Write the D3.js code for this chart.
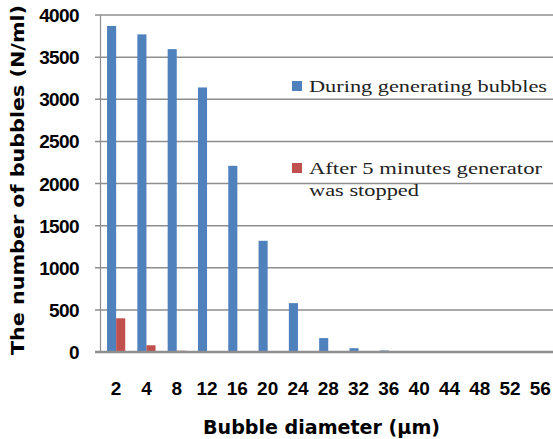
<!DOCTYPE html>
<html lang="en">
<head>
<meta charset="utf-8">
<title>Bubble diameter distribution</title>
<script src="https://d3js.org/d3.v7.min.js"></script>
<style>
  body { margin: 0; background: #fff; }
</style>
</head>
<body>
<script>

// data
var diameters = ["2", "4", "8", "12", "16", "20", "24", "28", "32", "36", "40", "44", "48", "52", "56"];
var during = [3870, 3770, 3595, 3140, 2210, 1320, 580, 165, 45, 18, 0, 0, 0, 0, 0];
var after5 = [400, 80, 15, 0, 0, 0, 0, 0, 0, 0, 0, 0, 0, 0, 0];
var yTicks = [0, 500, 1000, 1500, 2000, 2500, 3000, 3500, 4000];
var seriesNames = ["During generating bubbles", "After 5 minutes generator|was stopped"];
var colors = ["#4f81bd", "#c0504d"];

var w = 553, h = 439;
var plot = {left: 101, right: 555.5, top: 15, bottom: 352};

var svg = d3.select("body").append("svg")
    .attr("width", w)
    .attr("height", h);

var x = d3.scaleBand()
    .domain(diameters)
    .range([plot.left, plot.right])
    .paddingInner(0.4)
    .paddingOuter(0.2);

var y = d3.scaleLinear()
    .domain([0, 4000])
    .range([plot.bottom, plot.top]);

// gridlines
svg.append("g")
  .selectAll("line")
  .data(yTicks.slice(1))
  .enter().append("line")
    .attr("x1", plot.left - 6)
    .attr("x2", w)
    .attr("y1", function(d) { return y(d); })
    .attr("y2", function(d) { return y(d); })
    .style("stroke", "#8e8e8e")
    .style("stroke-width", 1.5);

// y axis line
svg.append("line")
    .attr("x1", plot.left - 0.5).attr("x2", plot.left - 0.5)
    .attr("y1", plot.top).attr("y2", plot.bottom)
    .style("stroke", "#8e8e8e")
    .style("stroke-width", 1.2);

// y tick labels
svg.append("g")
  .selectAll("text")
  .data(yTicks)
  .enter().append("text")
    .attr("x", 79)
    .attr("y", function(d) { return y(d) + 7; })
    .attr("text-anchor", "end")
    .style("font-family", "'Liberation Sans Narrow', 'Liberation Sans', Arial, sans-serif")
    .style("font-weight", "bold")
    .style("font-size", "19px")
    .style("letter-spacing", "-0.6px")
    .text(function(d) { return d; });

var barW = x.bandwidth() / 2;

svg.append("g")
  .selectAll("rect")
  .data(during)
  .enter().append("rect")
    .attr("x", function(d, i) { return x(diameters[i]); })
    .attr("y", function(d) { return y(d); })
    .attr("width", barW)
    .attr("height", function(d) { return plot.bottom - y(d); })
    .style("fill", colors[0]);

svg.append("g")
  .selectAll("rect")
  .data(after5)
  .enter().append("rect")
    .attr("x", function(d, i) { return x(diameters[i]) + barW; })
    .attr("y", function(d) { return y(d); })
    .attr("width", barW)
    .attr("height", function(d) { return plot.bottom - y(d); })
    .style("fill", colors[1]);

// x axis line
svg.append("line")
    .attr("x1", plot.left - 6).attr("x2", w)
    .attr("y1", plot.bottom).attr("y2", plot.bottom)
    .style("stroke", "#8e8e8e")
    .style("stroke-width", 2.5);

// x tick labels
svg.append("g")
  .selectAll("text")
  .data(diameters)
  .enter().append("text")
    .attr("x", function(d) { return x(d) + x.bandwidth() / 2; })
    .attr("y", 395)
    .attr("text-anchor", "middle")
    .style("font-family", "'Liberation Sans Narrow', 'Liberation Sans', Arial, sans-serif")
    .style("font-weight", "bold")
    .style("font-size", "19px")
    .text(function(d) { return d; });

// axis titles
svg.append("text")
    .attr("x", 203)
    .attr("y", 434)
    .attr("textLength", 237)
    .attr("lengthAdjust", "spacingAndGlyphs")
    .style("font-family", "'DejaVu Sans Condensed', 'DejaVu Sans', sans-serif")
    .style("font-weight", "bold")
    .style("font-size", "19px")
    .text("Bubble diameter (\u03bcm)");

svg.append("text")
    .attr("transform", "translate(24,355) rotate(-90)")
    .attr("textLength", 350)
    .attr("lengthAdjust", "spacingAndGlyphs")
    .style("font-family", "'DejaVu Sans', sans-serif")
    .style("font-weight", "bold")
    .style("font-size", "18px")
    .text("The number of bubbles (N/ml)");

// legend
var legendY = [92, 174];
var legendLen = [[238], [233, 110]];
seriesNames.forEach(function(name, i) {
  svg.append("rect")
      .attr("x", 292)
      .attr("y", legendY[i] - 11)
      .attr("width", 10)
      .attr("height", 10)
      .style("fill", colors[i]);
  name.split("|").forEach(function(line, j) {
    svg.append("text")
        .attr("x", 309)
        .attr("y", legendY[i] + j * 22)
        .attr("textLength", legendLen[i][j])
        .attr("lengthAdjust", "spacingAndGlyphs")
        .style("font-family", "'Liberation Serif', 'DejaVu Serif', serif")
        .style("font-size", "17px")
        .style("fill", "#222")
        .text(line);
  });
});

</script>
</body>
</html>
